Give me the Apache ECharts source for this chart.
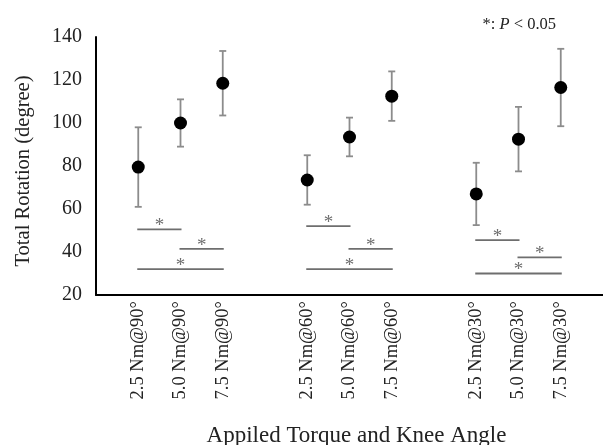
<!DOCTYPE html>
<html>
<head>
<meta charset="utf-8">
<script src="https://cdn.jsdelivr.net/npm/echarts@6/dist/echarts.min.js"></script>
<style>
  html, body { margin: 0; padding: 0; background: #fff; }
  #chart { width: 603px; height: 445px; }
</style>
</head>
<body>
<div id="chart"></div>
<script>
// categories (blank slots separate the three knee angles)
var categories = ['', '2.5 Nm@90°', '5.0 Nm@90°', '7.5 Nm@90°', '',
                  '2.5 Nm@60°', '5.0 Nm@60°', '7.5 Nm@60°', '',
                  '2.5 Nm@30°', '5.0 Nm@30°', '7.5 Nm@30°', ''];
var slots = [1, 2, 3, 5, 6, 7, 9, 10, 11];
var means = [79.5, 100, 118.5, 73.5, 93.5, 112.5, 67, 92.5, 116.5];
var sds   = [18.5, 11, 15, 11.5, 9, 11.5, 14.5, 15, 18];
// significance bars: from slot, to slot, height
var sigFrom = [1, 2, 1, 5, 6, 5, 9, 10, 9];
var sigTo   = [2, 3, 3, 6, 7, 7, 10, 11, 11];
var sigY    = [50.5, 41.5, 32, 52, 41.5, 32, 45.5, 37.5, 30];

var FONT = '"Liberation Serif", "Times New Roman", serif';

var pointData = slots.map(function (s, i) { return [s, means[i]]; });
var errData = slots.map(function (s, i) { return [s, means[i] - sds[i], means[i] + sds[i]]; });
var sigData = sigFrom.map(function (f, i) { return [f, sigTo[i], sigY[i]]; });

var chart = echarts.init(document.getElementById('chart'));
chart.setOption({
    animation: false,
    grid: { left: 96, right: 0, top: 37, bottom: 150, outerBoundsMode: 'none' },
    graphic: [{
        type: 'text',
        right: 47,
        top: 16,
        style: {
            text: '{a|*: }{b|P}{a| < 0.05}',
            rich: {
                a: { fontFamily: FONT, fontSize: 16.5, fill: '#222' },
                b: { fontFamily: FONT, fontSize: 16.5, fontStyle: 'italic', fill: '#222' }
            }
        }
    }],
    xAxis: {
        type: 'category',
        data: categories,
        boundaryGap: false,
        name: 'Appiled Torque and Knee Angle',
        nameLocation: 'middle',
        nameGap: 129,
        nameTextStyle: { fontFamily: FONT, fontSize: 23, color: '#222', padding: [0, 0, 0, 14] },
        axisLine: { lineStyle: { color: '#000', width: 2 } },
        axisTick: { show: false },
        axisLabel: {
            interval: 0,
            rotate: 90,
            margin: 6,
            fontFamily: FONT,
            fontSize: 18.5,
            color: '#222'
        },
        splitLine: { show: false }
    },
    yAxis: {
        type: 'value',
        min: 20,
        max: 140,
        interval: 20,
        name: 'Total Rotation (degree)',
        nameLocation: 'middle',
        nameGap: 62,
        nameTextStyle: { fontFamily: FONT, fontSize: 20.5, color: '#222', padding: [0, 10, 0, 0] },
        axisLine: { show: true, lineStyle: { color: '#000', width: 2 } },
        axisTick: { show: false },
        axisLabel: { margin: 14, fontFamily: FONT, fontSize: 20, color: '#222' },
        splitLine: { show: false }
    },
    series: [
        {
            type: 'custom',
            name: 'sd',
            data: errData,
            encode: { x: 0, y: [1, 2] },
            z: 2,
            renderItem: function (params, api) {
                var lo = api.coord([api.value(0), api.value(1)]);
                var hi = api.coord([api.value(0), api.value(2)]);
                var cap = 3.5;
                var st = { stroke: '#8c8c8c', lineWidth: 1.8 };
                return {
                    type: 'group',
                    children: [
                        { type: 'line', shape: { x1: lo[0], y1: lo[1], x2: hi[0], y2: hi[1] }, style: st },
                        { type: 'line', shape: { x1: lo[0] - cap, y1: lo[1], x2: lo[0] + cap, y2: lo[1] }, style: st },
                        { type: 'line', shape: { x1: hi[0] - cap, y1: hi[1], x2: hi[0] + cap, y2: hi[1] }, style: st }
                    ]
                };
            }
        },
        {
            type: 'scatter',
            name: 'mean',
            data: pointData,
            symbol: 'circle',
            symbolSize: 13,
            itemStyle: { color: '#000', opacity: 1 },
            z: 3
        },
        {
            type: 'custom',
            name: 'sig',
            data: sigData,
            encode: { x: [0, 1], y: 2 },
            z: 2,
            renderItem: function (params, api) {
                var a = api.coord([api.value(0), api.value(2)]);
                var b = api.coord([api.value(1), api.value(2)]);
                return {
                    type: 'group',
                    children: [
                        { type: 'line', shape: { x1: a[0] - 1, y1: a[1], x2: b[0] + 1, y2: b[1] },
                          style: { stroke: '#6e6e6e', lineWidth: 1.8 } },
                        { type: 'text', x: (a[0] + b[0]) / 2, y: a[1] - 3,
                          style: { text: '*', fontFamily: FONT, fontSize: 19, fill: '#6e6e6e',
                                   align: 'center', verticalAlign: 'middle' } }
                    ]
                };
            }
        }
    ]
});
</script>
</body>
</html>
